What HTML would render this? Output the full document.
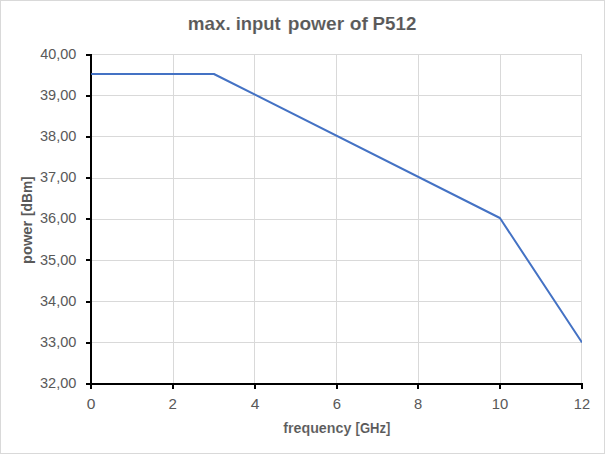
<!DOCTYPE html>
<html><head><meta charset="utf-8"><style>
html,body{margin:0;padding:0;background:#fff;}
svg{display:block;}
text{font-family:"Liberation Sans", sans-serif;}
</style></head><body>
<svg width="606" height="454" viewBox="0 0 606 454">
<rect x="0.5" y="0.5" width="604" height="453" fill="#fff" stroke="#d9d9d9" stroke-width="1"/>
<rect x="92" y="54" width="490" height="1" fill="#d9d9d9"/>
<rect x="92" y="95" width="490" height="1" fill="#d9d9d9"/>
<rect x="92" y="136" width="490" height="1" fill="#d9d9d9"/>
<rect x="92" y="178" width="490" height="1" fill="#d9d9d9"/>
<rect x="92" y="219" width="490" height="1" fill="#d9d9d9"/>
<rect x="92" y="260" width="490" height="1" fill="#d9d9d9"/>
<rect x="92" y="301" width="490" height="1" fill="#d9d9d9"/>
<rect x="92" y="342" width="490" height="1" fill="#d9d9d9"/>
<rect x="173" y="54" width="1" height="329" fill="#d9d9d9"/>
<rect x="254" y="54" width="1" height="329" fill="#d9d9d9"/>
<rect x="336" y="54" width="1" height="329" fill="#d9d9d9"/>
<rect x="418" y="54" width="1" height="329" fill="#d9d9d9"/>
<rect x="500" y="54" width="1" height="329" fill="#d9d9d9"/>
<rect x="581" y="54" width="1" height="329" fill="#d9d9d9"/>
<rect x="90" y="54" width="2" height="335" fill="#000"/>
<rect x="86" y="383" width="497" height="2" fill="#000"/>
<rect x="86" y="54" width="5" height="2" fill="#000"/>
<rect x="86" y="95" width="5" height="2" fill="#000"/>
<rect x="86" y="136" width="5" height="2" fill="#000"/>
<rect x="86" y="177" width="5" height="2" fill="#000"/>
<rect x="86" y="218" width="5" height="2" fill="#000"/>
<rect x="86" y="259" width="5" height="2" fill="#000"/>
<rect x="86" y="301" width="5" height="2" fill="#000"/>
<rect x="86" y="342" width="5" height="2" fill="#000"/>
<rect x="86" y="383" width="5" height="2" fill="#000"/>
<rect x="172" y="383" width="2" height="6" fill="#000"/>
<rect x="254" y="383" width="2" height="6" fill="#000"/>
<rect x="336" y="383" width="2" height="6" fill="#000"/>
<rect x="417" y="383" width="2" height="6" fill="#000"/>
<rect x="499" y="383" width="2" height="6" fill="#000"/>
<rect x="581" y="383" width="2" height="6" fill="#000"/>
<defs><clipPath id="pc"><rect x="91" y="40" width="491" height="360"/></clipPath></defs>
<polyline clip-path="url(#pc)" points="91.90,74.00 213.90,74.00 499.90,218.00 581.50,341.80" fill="none" stroke="#4472c4" stroke-width="2" stroke-linejoin="round" stroke-linecap="round"/>
<text transform="translate(187.71,29.80) scale(1.0359,1)" font-weight="bold" font-size="18.2" fill="#595959" stroke="#fff" stroke-width="0.1">max.</text>
<text transform="translate(235.63,29.80) scale(1.0163,1)" font-weight="bold" font-size="18.2" fill="#595959" stroke="#fff" stroke-width="0.1">input</text>
<text transform="translate(287.68,29.80) scale(1.0538,1)" font-weight="bold" font-size="18.2" fill="#595959" stroke="#fff" stroke-width="0.1">power</text>
<text transform="translate(349.70,29.80) scale(1.0606,1)" font-weight="bold" font-size="18.2" fill="#595959" stroke="#fff" stroke-width="0.1">of</text>
<text transform="translate(372.51,29.80) scale(1.0321,1)" font-weight="bold" font-size="18.2" fill="#595959" stroke="#fff" stroke-width="0.1">P512</text>
<text transform="translate(40.25,58.90) scale(1.0158,1)" font-weight="normal" font-size="14.2" fill="#595959">40,00</text>
<text transform="translate(39.99,100.03) scale(1.0232,1)" font-weight="normal" font-size="14.2" fill="#595959">39,00</text>
<text transform="translate(39.99,141.15) scale(1.0232,1)" font-weight="normal" font-size="14.2" fill="#595959">38,00</text>
<text transform="translate(39.99,182.28) scale(1.0232,1)" font-weight="normal" font-size="14.2" fill="#595959">37,00</text>
<text transform="translate(39.99,223.40) scale(1.0232,1)" font-weight="normal" font-size="14.2" fill="#595959">36,00</text>
<text transform="translate(39.99,264.52) scale(1.0232,1)" font-weight="normal" font-size="14.2" fill="#595959">35,00</text>
<text transform="translate(39.99,305.65) scale(1.0232,1)" font-weight="normal" font-size="14.2" fill="#595959">34,00</text>
<text transform="translate(39.99,346.77) scale(1.0232,1)" font-weight="normal" font-size="14.2" fill="#595959">33,00</text>
<text transform="translate(39.99,387.90) scale(1.0232,1)" font-weight="normal" font-size="14.2" fill="#595959">32,00</text>
<text transform="translate(86.65,408.90) scale(1.0963,1)" font-weight="normal" font-size="14.2" fill="#595959">0</text>
<text transform="translate(168.60,408.90) scale(1.0615,1)" font-weight="normal" font-size="14.2" fill="#595959">2</text>
<text transform="translate(250.82,408.90) scale(1.1034,1)" font-weight="normal" font-size="14.2" fill="#595959">4</text>
<text transform="translate(332.82,408.90) scale(1.0462,1)" font-weight="normal" font-size="14.2" fill="#595959">6</text>
<text transform="translate(414.08,408.90) scale(1.0370,1)" font-weight="normal" font-size="14.2" fill="#595959">8</text>
<text transform="translate(491.85,408.90) scale(1.0456,1)" font-weight="normal" font-size="14.2" fill="#595959">10</text>
<text transform="translate(573.87,408.90) scale(1.0286,1)" font-weight="normal" font-size="14.2" fill="#595959">12</text>
<text transform="translate(283.15,432.80) scale(1.0134,1)" font-weight="bold" font-size="14.1" fill="#595959" stroke="#fff" stroke-width="0.1">frequency</text>
<text transform="translate(355.60,432.80) scale(0.9278,1)" font-weight="bold" font-size="14.1" fill="#595959" stroke="#fff" stroke-width="0.1">[GHz]</text>
<text transform="translate(32.20,263.94) rotate(-90) scale(1.0410,1)" font-weight="bold" font-size="14.1" fill="#595959">power</text>
<text transform="translate(32.20,216.03) rotate(-90) scale(0.9758,1)" font-weight="bold" font-size="14.1" fill="#595959">[dBm]</text>
</svg>
</body></html>
